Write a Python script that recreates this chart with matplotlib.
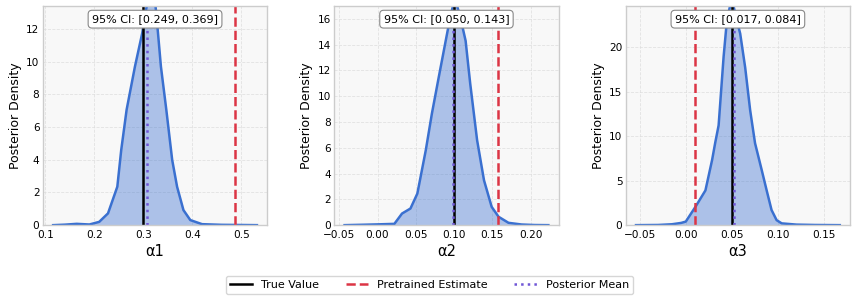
import matplotlib.pyplot as plt

# posterior density curves (x, density)
x_a1 = [0.116, 0.14, 0.164, 0.19, 0.21, 0.228, 0.247, 0.255, 0.266, 0.283, 0.298, 0.307,
        0.316, 0.325, 0.330, 0.336, 0.347, 0.359, 0.369, 0.382, 0.396, 0.42, 0.46, 0.50, 0.532]
d_a1 = [0.0, 0.03, 0.08, 0.04, 0.2, 0.72, 2.35, 4.6, 7.06, 9.7, 11.76, 13.4,
        14.0, 13.4, 11.76, 9.7, 7.06, 3.99, 2.35, 0.92, 0.31, 0.06, 0.02, 0.01, 0.0]

x_a2 = [-0.043, -0.02, 0.0, 0.011, 0.022, 0.032, 0.043, 0.052, 0.063, 0.071, 0.080, 0.089,
        0.095, 0.101, 0.108, 0.115, 0.121, 0.130, 0.139, 0.149, 0.158, 0.171, 0.188, 0.205, 0.223]
d_a2 = [0.0, 0.03, 0.06, 0.08, 0.1, 0.9, 1.29, 2.45, 5.81, 8.66, 11.5, 14.3,
        16.15, 17.6, 16.15, 14.3, 10.98, 6.59, 3.48, 1.42, 0.65, 0.18, 0.05, 0.01, 0.0]

x_a3 = [-0.054, -0.03, -0.015, -0.005, 0.0, 0.0105, 0.0213, 0.0285, 0.032, 0.0356, 0.041,
        0.0446, 0.048, 0.051, 0.0536, 0.059, 0.0644, 0.0698, 0.0751, 0.0823, 0.0877, 0.093,
        0.0985, 0.104, 0.12, 0.14, 0.167]
d_a3 = [0.0, 0.02, 0.1, 0.25, 0.4, 2.06, 3.9, 7.3, 9.3, 11.2, 18.9,
        23.0, 24.6, 25.0, 23.7, 21.5, 17.7, 12.9, 9.2, 6.2, 3.9, 1.7,
        0.56, 0.2, 0.06, 0.02, 0.0]

params = ['α1', 'α2', 'α3']
true_vals = [0.3, 0.1, 0.05]
pretrained = [0.488, 0.157, 0.010]
post_means = [0.307, 0.099, 0.052]
ci_low = [0.249, 0.050, 0.017]
ci_high = [0.369, 0.143, 0.084]
y_tops = [13.4, 17.0, 24.6]

curves = [(x_a1, d_a1), (x_a2, d_a2), (x_a3, d_a3)]

blue = '#3a70d0'
red = '#dc3545'
purple = '#7057d6'

fig, axes = plt.subplots(1, 3, figsize=(8.59, 3.01), dpi=100)
fig.subplots_adjust(left=0.050, right=0.9895, top=0.980, bottom=0.252, wspace=0.30)

for i, ax in enumerate(axes):
    xs, ds = curves[i]
    ax.set_facecolor('#f8f8f8')
    ax.fill_between(xs, ds, color=blue, alpha=0.4, linewidth=0)
    ax.plot(xs, ds, color=blue, lw=1.8)
    ax.axvline(true_vals[i], color='black', lw=1.8, label='True Value')
    ax.axvline(pretrained[i], color=red, lw=1.8, ls='--', label='Pretrained Estimate')
    ax.axvline(post_means[i], color=purple, lw=1.8, ls=':', label='Posterior Mean')
    ax.set_ylim(0, y_tops[i])
    ax.set_xlabel(params[i], fontsize=10.5, labelpad=3)
    ax.set_ylabel('Posterior Density', fontsize=9, labelpad=3)
    ax.tick_params(labelsize=7.6, length=0)
    ax.tick_params(axis='x', pad=3.5)
    ax.tick_params(axis='y', pad=2.5)
    ax.grid(True, ls='--', lw=0.6, color='#dddddd', alpha=0.8)
    ax.set_axisbelow(True)
    for s in ax.spines.values():
        s.set_color('#cccccc')
        s.set_linewidth(1.0)
    ax.text(0.5, 0.94, f'95% CI: [{ci_low[i]:.3f}, {ci_high[i]:.3f}]',
            transform=ax.transAxes, ha='center', va='center', fontsize=8,
            bbox=dict(boxstyle='round,pad=0.35', fc='white', ec='#888888', lw=0.8))

handles, labels = axes[0].get_legend_handles_labels()
fig.legend(handles, labels, loc='center', bbox_to_anchor=(0.5, 0.053), ncol=3,
           fontsize=8, frameon=True, edgecolor='#cccccc', columnspacing=2.4)

fig.savefig('out.png', dpi=100)
